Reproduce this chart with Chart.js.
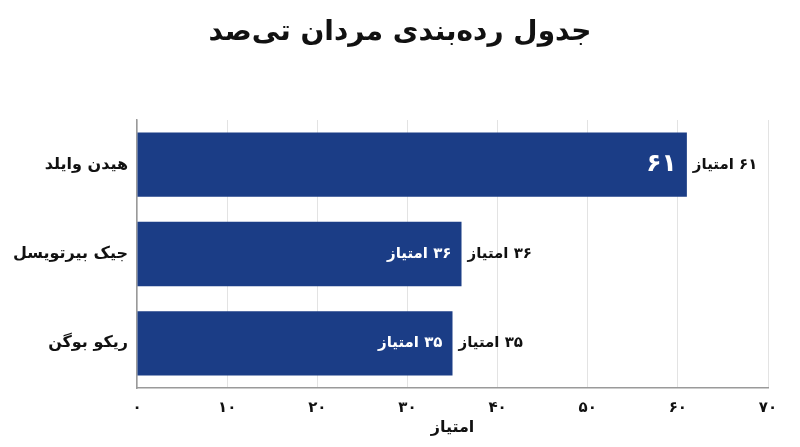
<!DOCTYPE html>
<html lang="fa">
<head>
<meta charset="UTF-8">
<title>جدول رده‌بندی مردان تی‌صد</title>
<script src="https://cdn.jsdelivr.net/npm/chart.js"></script>
<style>
  html, body { margin: 0; padding: 0; background: #ffffff; }
  #wrap { width: 800px; height: 447px; }
</style>
</head>
<body>
<div id="wrap"><canvas id="chart"></canvas></div>
<script>
// داده‌ها
const chartTitle = 'جدول رده‌بندی مردان تی‌صد';
const players = ['هیدن وایلد', 'جیک بیرتویسل', 'ریکو بوگن'];
const points = [61, 36, 35];
const insideLabels = ['۶۱', '۳۶ امتیاز', '۳۵ امتیاز'];
const outsideLabels = ['۶۱ امتیاز', '۳۶ امتیاز', '۳۵ امتیاز'];
const xTicks = [0, 10, 20, 30, 40, 50, 60, 70];

const FONT = '"DejaVu Sans", "Noto Sans", sans-serif';
const BAR_COLOR = '#1b3d86';

function faDigits(n) {
    return String(n).replace(/[0-9]/g, d => '۰۱۲۳۴۵۶۷۸۹'[d]);
}

// عنوان وسط صفحه + برچسب‌های داخل و بیرون میله
const barLabels = {
    id: 'barLabels',
    afterDatasetsDraw(chart) {
        const ctx = chart.ctx;
        const meta = chart.getDatasetMeta(0);
        ctx.save();
        ctx.direction = 'rtl';
        ctx.textBaseline = 'middle';

        ctx.fillStyle = '#111111';
        ctx.textAlign = 'center';
        ctx.font = 'bold 28px ' + FONT;
        ctx.fillText(chartTitle, chart.width / 2, 33);

        meta.data.forEach((bar, i) => {
            // داخل
            ctx.fillStyle = '#ffffff';
            ctx.textAlign = 'right';
            ctx.font = (i === 0 ? 'bold 25px ' : 'bold 15px ') + FONT;
            ctx.fillText(insideLabels[i], bar.x - 10, bar.y);
            // بیرون
            ctx.fillStyle = '#111111';
            ctx.font = 'bold 15px ' + FONT;
            const w = ctx.measureText(outsideLabels[i]).width;
            ctx.textAlign = 'right';
            ctx.fillText(outsideLabels[i], bar.x + 6 + w, bar.y);
        });
        ctx.restore();
    }
};

const chart = new Chart(document.getElementById('chart'), {
    type: 'bar',
    data: {
        labels: players,
        datasets: [{
            data: points,
            backgroundColor: BAR_COLOR,
            borderWidth: 0,
            categoryPercentage: 0.72,
            barPercentage: 1.0
        }]
    },
    options: {
        indexAxis: 'y',
        responsive: true,
        maintainAspectRatio: false,
        animation: false,
        layout: { padding: { left: 0, right: 32, top: 120, bottom: 10 } },
        plugins: {
            legend: { display: false },
            tooltip: { enabled: false },
            title: { display: false }
        },
        scales: {
            x: {
                min: 0,
                max: 70,
                afterBuildTicks(scale) {
                    scale.ticks = xTicks.map(v => ({ value: v }));
                },
                afterFit(scale) { scale.height = 49; },
                grid: {
                    color: '#e3e3e3',
                    lineWidth: 1,
                    drawTicks: false
                },
                border: { display: true, color: '#9a9a9a', width: 1.5 },
                ticks: {
                    color: '#111111',
                    padding: 11,
                    maxRotation: 0,
                    font: { family: FONT, size: 15, weight: 'bold' },
                    callback: v => faDigits(v)
                },
                title: {
                    display: true,
                    text: 'امتیاز',
                    color: '#111111',
                    padding: { top: 2, bottom: 0 },
                    font: { family: FONT, size: 16, weight: 'bold' }
                }
            },
            y: {
                afterFit(scale) { scale.width = 137; },
                grid: { display: false, drawTicks: false },
                border: { display: true, color: '#9a9a9a', width: 1.5 },
                ticks: {
                    color: '#111111',
                    padding: 9,
                    font: { family: FONT, size: 16, weight: 'bold' }
                }
            }
        }
    },
    plugins: [barLabels]
});
</script>
</body>
</html>
